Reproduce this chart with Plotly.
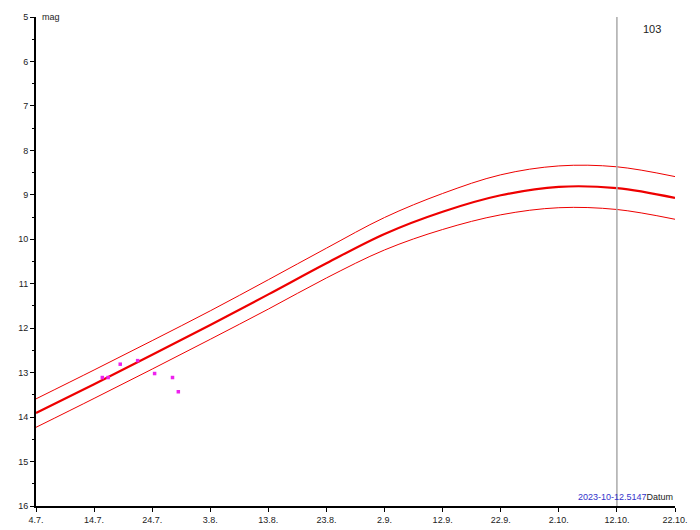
import plotly.graph_objects as go

# Prediction curve (center) and uncertainty band
dates = ["2023-07-04", "2023-07-14", "2023-07-24", "2023-08-03", "2023-08-13",
         "2023-08-23", "2023-09-02", "2023-09-12", "2023-09-22", "2023-10-02",
         "2023-10-12", "2023-10-22"]
center = [13.91, 13.26, 12.60, 11.93, 11.24, 10.54, 9.88, 9.38, 9.01, 8.82, 8.85, 9.07]
upper = [13.59, 12.94, 12.28, 11.61, 10.91, 10.20, 9.51, 8.97, 8.55, 8.35, 8.37, 8.59]
lower = [14.23, 13.58, 12.92, 12.25, 11.57, 10.87, 10.24, 9.78, 9.45, 9.29, 9.33, 9.55]

# Observations
obs_dates = ["2023-07-15 10:00", "2023-07-16 10:00", "2023-07-18 12:00", "2023-07-21 12:00",
             "2023-07-24 10:00", "2023-07-27 12:00", "2023-07-28 12:00"]
obs_mag = [13.11, 13.11, 12.81, 12.73, 13.02, 13.11, 13.43]

tick_dates = dates
tick_labels = ["4.7.", "14.7.", "24.7.", "3.8.", "13.8.", "23.8.", "2.9.", "12.9.",
               "22.9.", "2.10.", "12.10.", "22.10."]

marker_date = "2023-10-12"
font = "Arial, Liberation Sans, sans-serif"

fig = go.Figure()
for arr, w in [(upper, 1), (lower, 1), (center, 2.2)]:
    fig.add_trace(go.Scatter(x=dates, y=arr, mode="lines",
                             line=dict(color="#ee0000", width=w, shape="spline", smoothing=1.0),
                             hoverinfo="skip", showlegend=False))
fig.add_trace(go.Scatter(x=obs_dates, y=obs_mag, mode="markers",
                         marker=dict(symbol="square", size=3.5, color="#ee22ee"),
                         showlegend=False))

fig.add_shape(type="line", xref="x", yref="paper", x0=marker_date, x1=marker_date,
              y0=0, y1=1, line=dict(color="#aaaaaa", width=1.5))

fig.add_annotation(xref="paper", yref="paper", x=0, y=1, xshift=4, text="mag",
                   showarrow=False, xanchor="left", yanchor="middle",
                   font=dict(family=font, size=9, color="#222222"))
fig.add_annotation(xref="paper", yref="paper", x=0.964, y=0.975, text="103",
                   showarrow=False, xanchor="center", yanchor="middle",
                   font=dict(family=font, size=11, color="#222222"))
fig.add_annotation(xref="paper", yref="paper", x=1, y=0, yshift=9, xshift=0,
                   text="<span style='color:#3333cc'>2023-10-12.5147</span>Datum",
                   showarrow=False, xanchor="right", yanchor="middle",
                   font=dict(family=font, size=9, color="#222222"))

fig.update_layout(
    width=692, height=522,
    margin=dict(l=28, r=25, t=9, b=24, autoexpand=False),
    paper_bgcolor="white", plot_bgcolor="white",
    font=dict(family=font, size=9, color="#222222"),
    showlegend=False,
)
fig.update_xaxes(type="date", range=["2023-07-04", "2023-10-22"],
                 tickvals=tick_dates, ticktext=tick_labels, automargin=False,
                 showgrid=False, zeroline=False, showline=True, linecolor="black",
                 linewidth=2, ticks="outside", ticklen=4, tickcolor="black",
                 tickfont=dict(size=9, color="#222222"))
fig.update_yaxes(range=[16, 5], dtick=1, tick0=5, automargin=False,
                 showgrid=False, zeroline=False, showline=True, linecolor="black",
                 linewidth=2, ticks="outside", ticklen=4, tickcolor="black",
                 minor=dict(dtick=0.5, ticks="outside", ticklen=2, tickcolor="black", showgrid=False),
                 tickfont=dict(size=9, color="#222222"))

fig.write_html("out.html")
